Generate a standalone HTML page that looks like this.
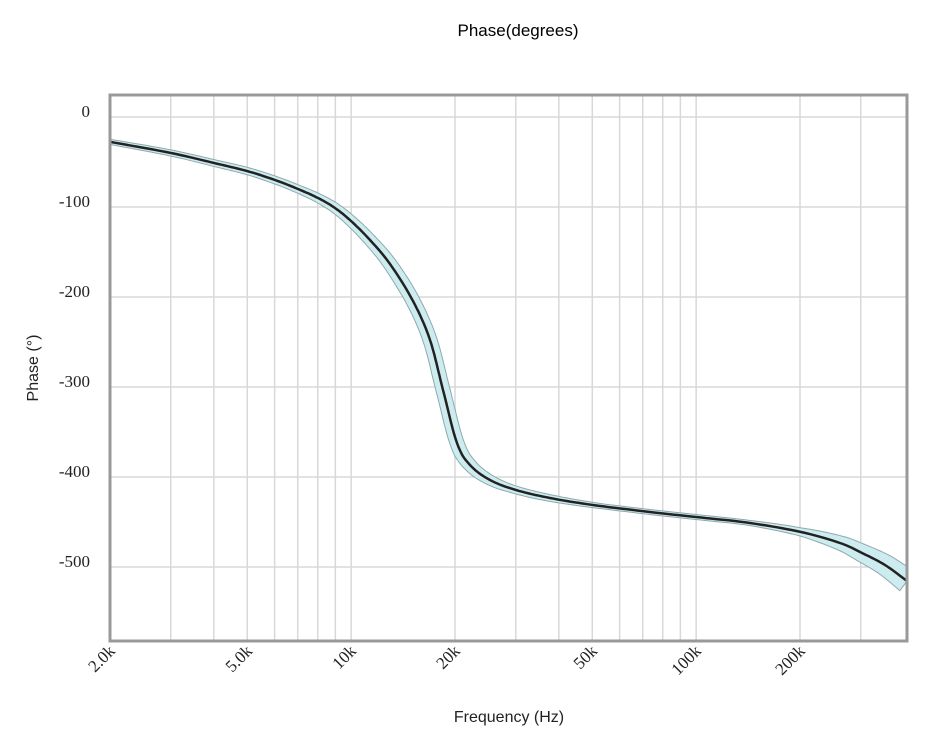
<!DOCTYPE html>
<html><head><meta charset="utf-8"><style>
html,body{margin:0;padding:0;background:#fff;}
svg text{font-family:"Liberation Serif",serif;}
</style></head><body>
<svg id="s" width="933" height="746" xmlns="http://www.w3.org/2000/svg">
<defs><clipPath id="c"><rect x="110" y="95" width="797" height="546"/></clipPath></defs>
<rect width="933" height="746" fill="#fff"/>
<text x="518" y="36" text-anchor="middle" style="font-family:'Liberation Sans',sans-serif" font-size="17">Phase(degrees)</text>
<g id="grid" stroke="#d8d8d8" stroke-width="1.5"></g>
<g clip-path="url(#c)">
<path id="band" fill="#cdecf0" stroke="#8fa9ae" stroke-width="1"/>
<path id="line" fill="none" stroke="#222" stroke-width="2.5"/>
</g>
<rect x="110" y="95" width="797" height="546" fill="none" stroke="#999" stroke-width="3"/>
<g font-size="17" fill="#222" text-anchor="end">
<text x="90" y="117">0</text>
<text x="90" y="207">-100</text>
<text x="90" y="297">-200</text>
<text x="90" y="387">-300</text>
<text x="90" y="477">-400</text>
<text x="90" y="567">-500</text>
</g>
<text transform="translate(38,368) rotate(-90)" text-anchor="middle" font-size="16" style="font-family:'Liberation Sans',sans-serif" fill="#222">Phase (°)</text>
<g font-size="17" fill="#222" text-anchor="end" id="xl"></g>
<text x="509" y="722" text-anchor="middle" font-size="16" style="font-family:'Liberation Sans',sans-serif" fill="#222">Frequency (Hz)</text>
</svg>
<script>
var NS="http://www.w3.org/2000/svg";
function X(f){return 110+345*Math.log10(f/2000);}
var g=document.getElementById('grid');
function ln(x1,y1,x2,y2){var l=document.createElementNS(NS,'line');l.setAttribute('x1',x1);l.setAttribute('y1',y1);l.setAttribute('x2',x2);l.setAttribute('y2',y2);g.appendChild(l);}
[3,4,5,6,7,8,9,10,20,30,40,50,60,70,80,90,100,200,300].forEach(function(k){var x=X(k*1000);ln(x,95,x,641);});
for(var i=0;i<=5;i++){var y=117+90*i;ln(110,y,907,y);}
var xl=document.getElementById('xl');
[["2.0k",2],["5.0k",5],["10k",10],["20k",20],["50k",50],["100k",100],["200k",200]].forEach(function(a){
var x=X(a[1]*1000)+6,y=652;var t=document.createElementNS(NS,'text');t.setAttribute('transform','translate('+x+','+y+') rotate(-45)');t.textContent=a[0];xl.appendChild(t);});
var P=[[111,142],[171,153],[214,163],[247,171],[275,180],[298,189],[318,198],[335,208],[351,221],[370,240],[390,264],[413,301],[430,340],[443,390],[457,443],[470,465],[490,480],[516,490],[550,498],[593,505],[650,512],[696,517],[750,523],[801,532],[840,543],[862,553],[885,565],[907,581]];
var pts=[];
for(var i=0;i<P.length-1;i++){var p0=P[Math.max(0,i-1)],p1=P[i],p2=P[i+1],p3=P[Math.min(P.length-1,i+2)];
for(var t=0;t<1;t+=0.1){var t2=t*t,t3=t2*t;
var x=0.5*((2*p1[0])+(-p0[0]+p2[0])*t+(2*p0[0]-5*p1[0]+4*p2[0]-p3[0])*t2+(-p0[0]+3*p1[0]-3*p2[0]+p3[0])*t3);
var y=0.5*((2*p1[1])+(-p0[1]+p2[1])*t+(2*p0[1]-5*p1[1]+4*p2[1]-p3[1])*t2+(-p0[1]+3*p1[1]-3*p2[1]+p3[1])*t3);
pts.push([x,y]);}}
pts.push(P[P.length-1]);
var n=pts.length-1;
var a=pts[n-1],b=pts[n];pts.push([b[0]+(b[0]-a[0])*3,b[1]+(b[1]-a[1])*3]);
a=pts[1];b=pts[0];pts.unshift([b[0]+(b[0]-a[0])*3,b[1]+(b[1]-a[1])*3]);
var W=[[100,2.5],[300,4],[400,7],[460,7],[510,4],[600,2.5],[750,2.5],[800,4],[862,9],[907,12],[930,13]];
function hw(x){if(x<=W[0][0])return W[0][1];for(var i=0;i<W.length-1;i++){if(x<=W[i+1][0]){var f=(x-W[i][0])/(W[i+1][0]-W[i][0]);return W[i][1]+f*(W[i+1][1]-W[i][1]);}}return 13;}
var up=[],dn=[];
for(var i=0;i<pts.length;i++){var a=pts[Math.max(0,i-1)],b=pts[Math.min(pts.length-1,i+1)];
var dx=b[0]-a[0],dy=b[1]-a[1],L=Math.hypot(dx,dy)||1;var nx=-dy/L,ny=dx/L;var h=hw(pts[i][0]);
up.push([pts[i][0]+nx*h,pts[i][1]+ny*h]);dn.push([pts[i][0]-nx*h,pts[i][1]-ny*h]);}
function f(p){return p[0].toFixed(1)+","+p[1].toFixed(1)}
var d="M"+up.map(f).join(" L")+" L"+dn.reverse().map(f).join(" L")+" Z";
document.getElementById('band').setAttribute('d',d);
document.getElementById('line').setAttribute('d',"M"+pts.map(f).join(" L"));
</script>
</body></html>
